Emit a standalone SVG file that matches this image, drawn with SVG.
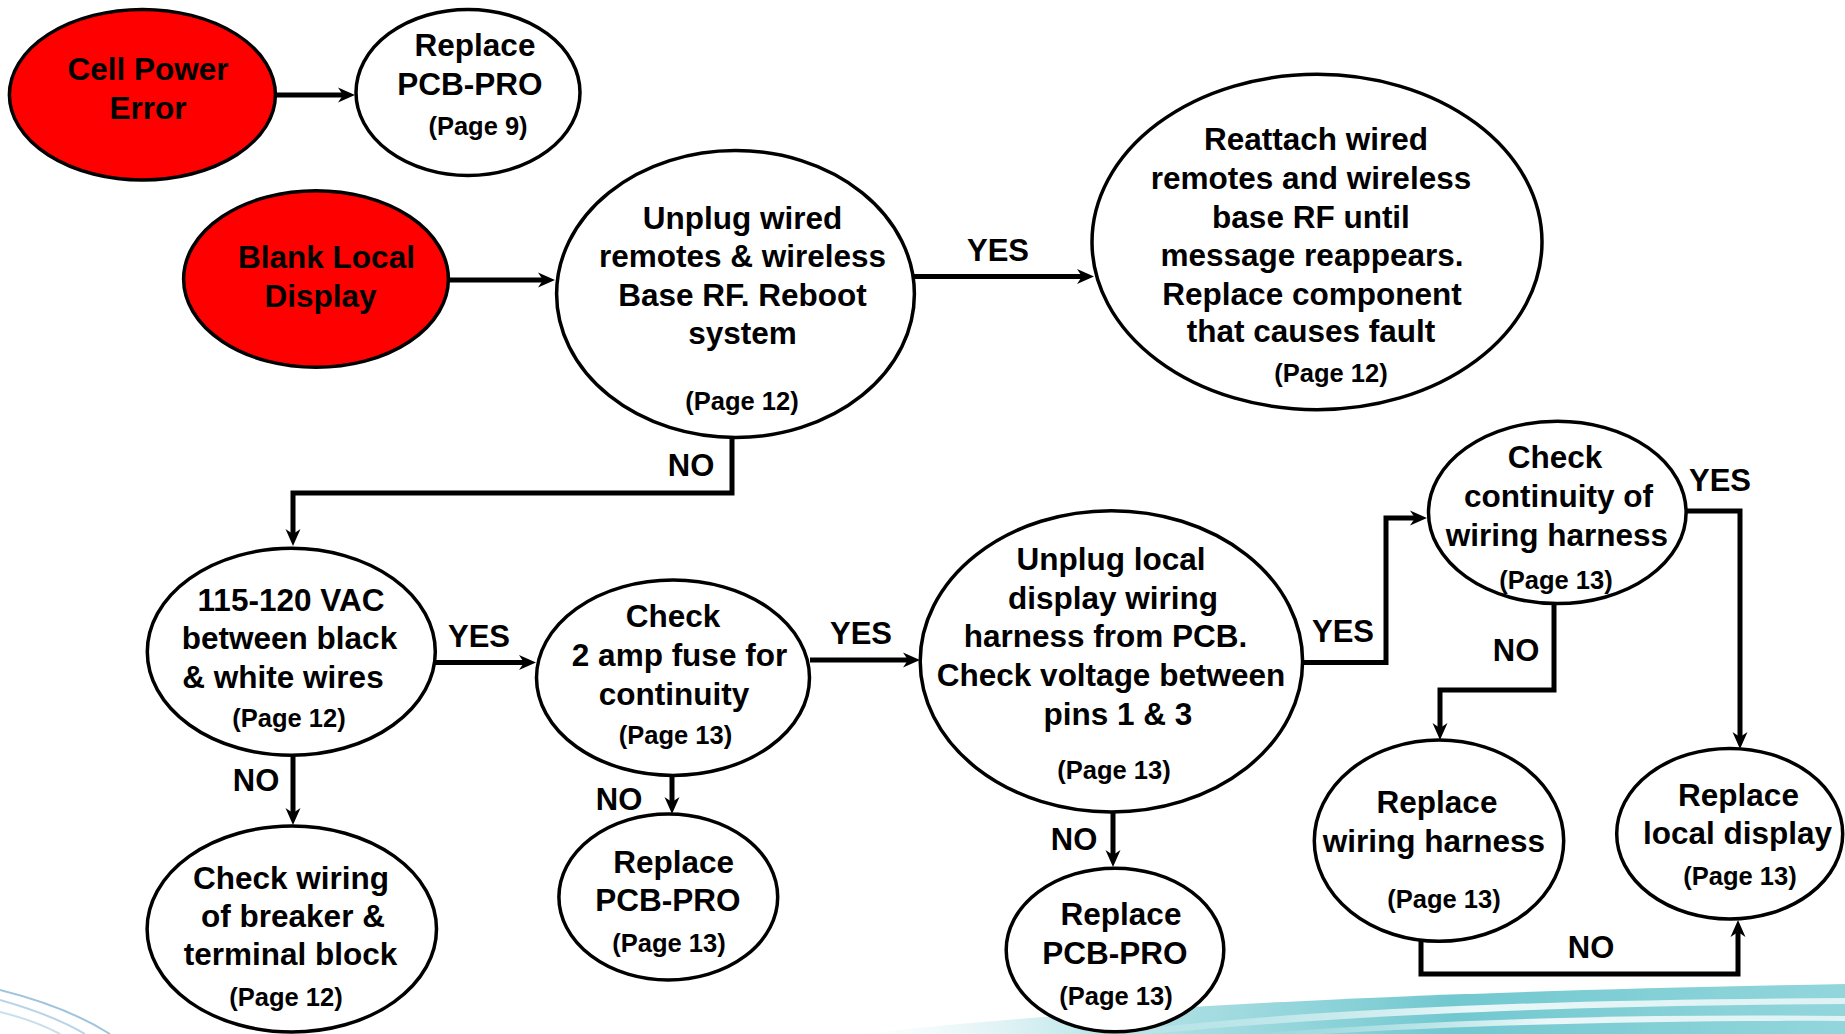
<svg xmlns="http://www.w3.org/2000/svg" width="1845" height="1034" viewBox="0 0 1845 1034">
<style>
.node{fill:#ffffff;stroke:#000;stroke-width:3.5}
.red{fill:#ff0000}
.t{font-family:"Liberation Sans",Arial,sans-serif;font-weight:bold;font-size:31.5px;fill:#000;text-anchor:middle}
.p{font-size:25.5px}
.lbl{font-family:"Liberation Sans",Arial,sans-serif;font-weight:bold;font-size:31px;fill:#000;text-anchor:middle}
.c{fill:none;stroke:#000;stroke-width:5;stroke-linejoin:miter;marker-end:url(#ah)}
</style>
<defs>
<marker id="ah" viewBox="-6 -10 20 20" refX="0" refY="0" markerWidth="20" markerHeight="20" markerUnits="userSpaceOnUse" orient="auto">
<path d="M12,0 L-5,-7.5 L0,0 L-5,7.5 Z" fill="#000"/>
</marker>
<linearGradient id="sw" x1="0" y1="0" x2="1" y2="0">
<stop offset="0" stop-color="#d6eef1" stop-opacity="0"/>
<stop offset="0.25" stop-color="#a6dde2" stop-opacity="0.8"/>
<stop offset="0.6" stop-color="#62c2ca" stop-opacity="0.9"/>
<stop offset="1" stop-color="#7fcfd6" stop-opacity="0.85"/>
</linearGradient>
<linearGradient id="sw2" x1="0" y1="0" x2="1" y2="0">
<stop offset="0" stop-color="#ffffff" stop-opacity="0"/>
<stop offset="0.5" stop-color="#ffffff" stop-opacity="0.85"/>
<stop offset="1" stop-color="#ffffff" stop-opacity="0.7"/>
</linearGradient>
</defs>
<rect x="0" y="0" width="1845" height="1034" fill="#ffffff"/>
<g id="background">
<path d="M860,1034 C1100,1008 1400,992 1845,984 L1845,1034 Z" fill="url(#sw)"/>
<path d="M1100,1034 C1300,1008 1550,1000 1845,998 L1845,1004 C1550,1006 1340,1016 1150,1034 Z" fill="url(#sw2)"/>
<path d="M1250,1034 C1450,1018 1650,1014 1845,1016 L1845,1021 C1650,1020 1480,1025 1320,1034 Z" fill="url(#sw2)"/>
<path d="M0,990 C40,1000 80,1015 110,1034" fill="none" stroke="#9fc4dc" stroke-width="2"/>
<path d="M0,1000 C35,1010 65,1022 85,1034" fill="none" stroke="#b8d4e6" stroke-width="2"/>
<path d="M0,1012 C25,1018 45,1026 60,1034" fill="none" stroke="#c9dfec" stroke-width="2"/>
</g>
<g id="connectors">
<path class="c" d="M275,95 H343"/>
<path class="c" d="M448,280 H543"/>
<path class="c" d="M914,276.5 H1082"/>
<path class="c" d="M732,438 V493 H293 V534"/>
<path class="c" d="M435,662.5 H524"/>
<path class="c" d="M293,755 V813"/>
<path class="c" d="M810,660 H908"/>
<path class="c" d="M672,775 V802"/>
<path class="c" d="M1113,812 V855"/>
<path class="c" d="M1303,662.5 H1386 V518 H1415"/>
<path class="c" d="M1686,511 H1740 V737"/>
<path class="c" d="M1554,604 V690 H1440 V728"/>
<path class="c" d="M1421,941 V974 H1738 V932"/>
<text class="lbl" x="998" y="261">YES</text>
<text class="lbl" x="691" y="476">NO</text>
<text class="lbl" x="479" y="647">YES</text>
<text class="lbl" x="256" y="791">NO</text>
<text class="lbl" x="861" y="644">YES</text>
<text class="lbl" x="619" y="810">NO</text>
<text class="lbl" x="1074" y="850">NO</text>
<text class="lbl" x="1343" y="642">YES</text>
<text class="lbl" x="1720" y="491">YES</text>
<text class="lbl" x="1516" y="661">NO</text>
<text class="lbl" x="1591" y="958">NO</text>
</g>
<g id="cell-power-error">
<ellipse class="node red" cx="142.4" cy="94.7" rx="133" ry="85.3"/>
<text class="t" x="148" y="79.5">Cell Power</text>
<text class="t" x="148" y="118.5">Error</text>
</g>
<g id="replace-pcb-pro-9">
<ellipse class="node" cx="468" cy="92.4" rx="112" ry="83"/>
<text class="t" x="475" y="56">Replace</text>
<text class="t" x="470" y="95">PCB-PRO</text>
<text class="t p" x="478" y="135">(Page 9)</text>
</g>
<g id="blank-local-display">
<ellipse class="node red" cx="316" cy="279" rx="132.4" ry="88.3"/>
<text class="t" x="326.5" y="268">Blank Local</text>
<text class="t" x="320.6" y="306.5">Display</text>
</g>
<g id="unplug-wired-remotes">
<ellipse class="node" cx="735.5" cy="294" rx="178.9" ry="143.5"/>
<text class="t" x="742.5" y="229">Unplug wired</text>
<text class="t" x="742.5" y="266.5">remotes &amp; wireless</text>
<text class="t" x="742.5" y="305.5">Base RF. Reboot</text>
<text class="t" x="742.5" y="344">system</text>
<text class="t p" x="742" y="410">(Page 12)</text>
</g>
<g id="reattach-wired-remotes">
<ellipse class="node" cx="1317" cy="242" rx="225" ry="167.7"/>
<text class="t" x="1316" y="150">Reattach wired</text>
<text class="t" x="1311" y="189">remotes and wireless</text>
<text class="t" x="1311" y="228">base RF until</text>
<text class="t" x="1312" y="265.5">message reappears.</text>
<text class="t" x="1312" y="304.5">Replace component</text>
<text class="t" x="1311" y="342">that causes fault</text>
<text class="t p" x="1331" y="382">(Page 12)</text>
</g>
<g id="check-115-120-vac">
<ellipse class="node" cx="291.3" cy="651.8" rx="144" ry="103.5"/>
<text class="t" x="291" y="610.5">115-120 VAC</text>
<text class="t" x="289.5" y="649">between black</text>
<text class="t" x="283" y="688">&amp; white wires</text>
<text class="t p" x="289" y="727">(Page 12)</text>
</g>
<g id="check-wiring-breaker">
<ellipse class="node" cx="291.8" cy="929" rx="144.7" ry="103"/>
<text class="t" x="291" y="889">Check wiring</text>
<text class="t" x="293" y="927">of breaker &amp;</text>
<text class="t" x="290.6" y="964.5">terminal block</text>
<text class="t p" x="286" y="1006">(Page 12)</text>
</g>
<g id="check-2-amp-fuse">
<ellipse class="node" cx="673" cy="677.7" rx="136.5" ry="97.7"/>
<text class="t" x="673" y="626.5">Check</text>
<text class="t" x="679.5" y="665.5">2 amp fuse for</text>
<text class="t" x="674" y="704.5">continuity</text>
<text class="t p" x="675.5" y="744">(Page 13)</text>
</g>
<g id="replace-pcb-pro-13a">
<ellipse class="node" cx="668.3" cy="897" rx="109.4" ry="83"/>
<text class="t" x="673.6" y="872.5">Replace</text>
<text class="t" x="668" y="910.5">PCB-PRO</text>
<text class="t p" x="669" y="951.5">(Page 13)</text>
</g>
<g id="unplug-local-display">
<ellipse class="node" cx="1111.4" cy="661.3" rx="191.2" ry="150.6"/>
<text class="t" x="1111" y="570">Unplug local</text>
<text class="t" x="1113" y="609">display wiring</text>
<text class="t" x="1105.5" y="647">harness from PCB.</text>
<text class="t" x="1111" y="685.5">Check voltage between</text>
<text class="t" x="1118" y="724.5">pins 1 &amp; 3</text>
<text class="t p" x="1114" y="778.5">(Page 13)</text>
</g>
<g id="replace-pcb-pro-13b">
<ellipse class="node" cx="1115" cy="950" rx="108.8" ry="81.8"/>
<text class="t" x="1121" y="924.5">Replace</text>
<text class="t" x="1115" y="963.5">PCB-PRO</text>
<text class="t p" x="1116" y="1004.5">(Page 13)</text>
</g>
<g id="check-continuity-harness">
<ellipse class="node" cx="1557.3" cy="512.4" rx="128.8" ry="91.2"/>
<text class="t" x="1555" y="468">Check</text>
<text class="t" x="1558.5" y="507">continuity of</text>
<text class="t" x="1557" y="545.5">wiring harness</text>
<text class="t p" x="1556" y="589">(Page 13)</text>
</g>
<g id="replace-wiring-harness">
<ellipse class="node" cx="1439" cy="840.7" rx="124.7" ry="100.6"/>
<text class="t" x="1437" y="812.5">Replace</text>
<text class="t" x="1434" y="851.5">wiring harness</text>
<text class="t p" x="1444" y="908">(Page 13)</text>
</g>
<g id="replace-local-display">
<ellipse class="node" cx="1729.7" cy="833.7" rx="113" ry="85.3"/>
<text class="t" x="1738.5" y="805.5">Replace</text>
<text class="t" x="1737.5" y="843.5">local display</text>
<text class="t p" x="1740" y="884.5">(Page 13)</text>
</g>
</svg>
